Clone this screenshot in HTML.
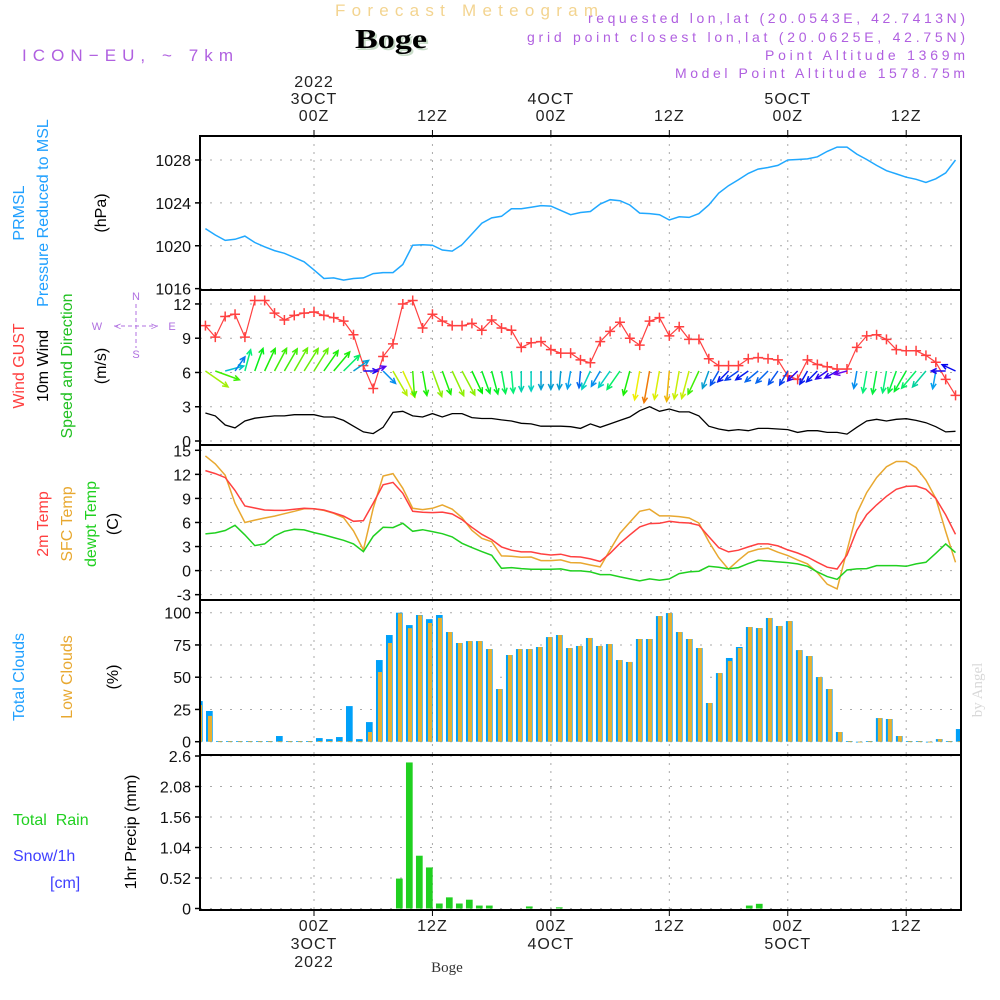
<!DOCTYPE html>
<html><head><meta charset="utf-8"><style>
html,body{margin:0;padding:0;background:#fff;}
svg{display:block;font-family:"Liberation Sans",sans-serif;}
</style></head><body>
<svg id="chart" width="1000" height="1000" viewBox="0 0 1000 1000" xmlns="http://www.w3.org/2000/svg">
<g id="texts">
<text x="335" y="16" font-size="17" fill="#f3d490" textLength="263" lengthAdjust="spacing">Forecast Meteogram</text>
<text x="357" y="50" font-size="27" font-weight="bold" font-family="Liberation Serif,serif" fill="#c8dcc8" textLength="72" lengthAdjust="spacingAndGlyphs">Boge</text>
<text x="355" y="48" font-size="27" font-weight="bold" font-family="Liberation Serif,serif" fill="#000" textLength="72" lengthAdjust="spacingAndGlyphs">Boge</text>
<text x="22" y="61" font-size="17" fill="#b060e0" textLength="211" lengthAdjust="spacing">ICON−EU, ~ 7km</text>
<g fill="#b060e0" font-size="14">
<text x="588" y="23" textLength="377" lengthAdjust="spacing">requested lon,lat (20.0543E, 42.7413N)</text>
<text x="527" y="42" textLength="438" lengthAdjust="spacing">grid point closest lon,lat (20.0625E, 42.75N)</text>
<text x="765" y="60" textLength="200" lengthAdjust="spacing">Point Altitude 1369m</text>
<text x="675" y="78" textLength="290" lengthAdjust="spacing">Model Point Altitude 1578.75m</text>
</g>
<g font-size="16">
<text transform="translate(24,213) rotate(-90)" text-anchor="middle" fill="#20a0ff">PRMSL</text>
<text transform="translate(48,213) rotate(-90)" text-anchor="middle" fill="#20a0ff">Pressure Reduced to MSL</text>
<text transform="translate(106,213) rotate(-90)" text-anchor="middle" fill="#000">(hPa)</text>
<text transform="translate(24,366) rotate(-90)" text-anchor="middle" fill="#ff4040">Wind GUST</text>
<text transform="translate(48,366) rotate(-90)" text-anchor="middle" fill="#000">10m Wind</text>
<text transform="translate(72,366) rotate(-90)" text-anchor="middle" fill="#20c020">Speed and Direction</text>
<text transform="translate(106,366) rotate(-90)" text-anchor="middle" fill="#000">(m/s)</text>
<text transform="translate(48,524) rotate(-90)" text-anchor="middle" fill="#ff4040">2m Temp</text>
<text transform="translate(72,524) rotate(-90)" text-anchor="middle" fill="#e8a830">SFC Temp</text>
<text transform="translate(96,524) rotate(-90)" text-anchor="middle" fill="#20d020">dewpt Temp</text>
<text transform="translate(118,524) rotate(-90)" text-anchor="middle" fill="#000">(C)</text>
<text transform="translate(24,677) rotate(-90)" text-anchor="middle" fill="#20a0ff">Total Clouds</text>
<text transform="translate(72,677) rotate(-90)" text-anchor="middle" fill="#e8a830">Low Clouds</text>
<text transform="translate(118,677) rotate(-90)" text-anchor="middle" fill="#000">(%)</text>
<text transform="translate(136,832) rotate(-90)" text-anchor="middle" fill="#000">1hr Precip (mm)</text>
<text x="13" y="825" fill="#20d020" xml:space="preserve">Total  Rain</text>
<text x="13" y="861" fill="#4040ff">Snow/1h</text>
<text x="50" y="888" fill="#4040ff">[cm]</text>
</g>
<g fill="#b070e0" stroke="#b070e0" font-size="11">
<text x="136" y="300" text-anchor="middle" stroke="none">N</text>
<text x="136" y="358" text-anchor="middle" stroke="none">S</text>
<text x="97" y="330" text-anchor="middle" stroke="none">W</text>
<text x="172" y="330" text-anchor="middle" stroke="none">E</text>
<line x1="136" y1="304" x2="136" y2="348" stroke-dasharray="4,3"/>
<line x1="114" y1="326" x2="158" y2="326" stroke-dasharray="4,3"/>
<text x="118" y="330" text-anchor="middle" stroke="none">&lt;</text>
<text x="154" y="330" text-anchor="middle" stroke="none">&gt;</text>
</g>
<text transform="translate(982,690) rotate(-90)" text-anchor="middle" font-size="15" font-family="Liberation Serif,serif" fill="#d8d8d8">by Angel</text>
<text x="447" y="972" text-anchor="middle" font-size="15" font-family="Liberation Serif,serif" fill="#333">Boge</text>
</g>
<g id="plot"></g>
</svg>
<script>
// ---- data ----
const tickHours = [0, 12, 24, 36, 48, 60, 72];
const tickTop = [["2022","3OCT","00Z"],["12Z"],["4OCT","00Z"],["12Z"],["5OCT","00Z"],["12Z"],[]];
const tickBottom = [["00Z","3OCT","2022"],["12Z"],["00Z","4OCT"],["12Z"],["00Z","5OCT"],["12Z"],[]];
const pressureTicks = [1016, 1020, 1024, 1028];
const windTicks = [0, 3, 6, 9, 12];
const tempTicks = [-3, 0, 3, 6, 9, 12, 15];
const cloudTicks = [0, 25, 50, 75, 100];
const precipTicks = [0, 0.52, 1.04, 1.56, 2.08, 2.6];
const precipTickLabels = ["0", "0.52", "1.04", "1.56", "2.08", "2.6"];
const SERIES_H0 = -11;     // hour of first hourly sample (relative to 00Z 3OCT)
const CLOUD_H0 = -11.62;   // hour of first cloud/precip bar
const CLOUD_DH = 1.013;
const pressure = [1021.6,1021.0,1020.5,1020.6,1020.9,1020.3,1019.9,1019.55,1019.3,1018.9,1018.5,1017.75,1016.95,1017.0,1016.8,1016.95,1017.0,1017.4,1017.5,1017.5,1018.25,1020.05,1020.1,1020.05,1019.6,1019.5,1020.1,1021.1,1022.1,1022.6,1022.75,1023.45,1023.45,1023.6,1023.75,1023.7,1023.3,1022.9,1023.1,1023.2,1023.9,1024.3,1024.2,1023.8,1023.05,1023.0,1022.9,1022.4,1022.7,1022.65,1023.0,1023.8,1024.9,1025.6,1026.15,1026.75,1027.15,1027.3,1027.5,1028.0,1028.05,1028.1,1028.3,1028.8,1029.2,1029.2,1028.55,1028.05,1027.5,1027.0,1026.7,1026.4,1026.2,1025.9,1026.25,1026.8,1028.0];
const gust = [10.1,9.1,10.9,11.1,9.1,12.3,12.3,11.2,10.6,11.0,11.2,11.3,11.0,10.8,10.5,9.3,6.6,4.6,7.4,8.5,12.0,12.3,9.9,11.1,10.5,10.1,10.1,10.3,9.7,10.6,9.9,9.7,8.2,8.6,8.7,8.0,7.7,7.7,7.1,6.85,8.7,9.6,10.4,9.0,8.4,10.5,10.8,9.2,10.0,8.9,8.9,7.2,6.6,6.6,6.6,7.2,7.3,7.2,7.1,5.7,5.4,7.1,6.7,6.5,6.3,6.3,8.2,9.2,9.3,8.9,8.0,7.9,7.9,7.5,6.9,5.4,4.0];
const windSpeed = [2.45,2.2,1.4,1.15,1.75,2.0,2.1,2.2,2.2,2.3,2.3,2.3,2.1,2.1,1.8,1.3,0.8,0.65,1.2,2.5,2.6,2.2,2.1,2.4,2.1,2.4,2.4,2.05,1.97,1.97,1.85,1.75,1.55,1.5,1.3,1.3,1.3,1.25,1.1,1.5,1.2,1.5,1.8,2.1,2.65,3.0,2.6,2.8,2.55,2.55,2.2,1.3,1.05,0.9,1.0,0.9,1.1,1.1,1.05,1.0,0.75,0.9,0.9,0.75,0.75,0.6,1.2,1.75,1.9,1.75,1.9,1.95,1.8,1.6,1.25,0.8,0.85];
const windArrowAngle = [35,20,-15,-55,-75,-70,-65,-62,-60,-60,-58,-58,-55,-50,-45,-35,0,-20,45,60,65,86,80,70,70,65,62,65,70,75,80,85,90,90,90,90,95,100,95,115,120,125,125,105,100,100,100,95,100,105,115,110,120,135,145,145,140,135,125,120,135,120,135,145,150,165,100,100,100,100,110,120,130,130,100,180,205];
const temp2m = [12.47,12.1,11.6,10.0,8.06,7.8,7.56,7.5,7.5,7.65,7.77,7.7,7.56,7.2,6.8,6.15,6.23,8.4,10.7,11.0,9.64,7.4,7.27,7.23,7.3,7.06,6.36,5.4,4.53,3.87,2.95,2.54,2.33,2.33,2.08,1.95,2.04,1.75,1.7,1.46,1.13,2.16,3.4,4.45,5.45,5.86,5.9,6.15,6.0,5.94,5.65,4.24,2.87,2.33,2.54,2.95,3.33,3.33,3.08,2.58,2.2,1.7,1.04,0.42,0.2,1.95,5.03,6.98,8.19,9.27,10.14,10.5,10.55,10.14,9.0,6.94,4.53];
const tempSfc = [14.3,13.3,11.9,8.4,6.0,6.3,6.56,6.8,7.1,7.4,7.7,7.7,7.5,7.15,6.6,4.95,2.58,7.77,11.8,12.1,10.26,7.77,7.6,7.77,8.19,7.65,6.6,5.03,4.03,3.6,1.83,1.79,1.67,1.7,1.25,1.25,1.33,1.0,0.96,0.7,0.46,2.58,4.66,6.03,7.4,7.65,6.82,6.82,6.73,6.56,5.94,3.62,1.62,0.17,1.29,2.29,2.66,2.79,2.29,1.87,1.33,0.83,-0.25,-1.7,-2.28,2.5,7.15,9.72,11.6,12.96,13.6,13.6,12.84,11.3,9.0,4.87,1.04];
const dewpoint = [4.57,4.7,5.0,5.65,4.45,3.12,3.33,4.32,4.9,5.15,5.07,4.74,4.45,4.12,3.78,3.33,2.37,4.28,5.4,5.36,5.9,4.9,5.1,4.86,4.6,4.2,3.4,2.87,2.37,1.91,0.29,0.38,0.25,0.17,0.17,0.17,0.21,-0.04,-0.04,-0.16,-0.5,-0.5,-0.79,-1.04,-1.29,-1.04,-1.2,-1.04,-0.37,-0.16,-0.08,0.54,0.42,0.21,0.38,0.87,1.29,1.2,1.08,1.0,0.83,0.54,-0.16,-0.75,-1.08,0.08,0.21,0.25,0.62,0.62,0.62,0.54,0.83,1.04,2.16,3.33,2.25];
const totalClouds = [31.5,23.8,0.5,0.5,0.5,0.5,0.5,0.5,4.4,0.5,0.5,0.5,2.8,2,3.6,27.6,2,15.2,63.3,82.7,100,90.4,98.2,95,98.2,85,76.5,78,78,71.8,40.8,67.2,71.8,71.8,73.4,81.1,82.7,72.6,74.2,80.4,74.2,75.7,63.3,61.8,79.6,79.6,97.4,99.7,85,79.6,72.6,30,53.2,64.9,73.4,88.9,88.1,95.9,89.7,93.5,71,66.4,50.1,40.8,7.5,0.5,0,0.5,18.3,17.6,4.4,0.5,0.5,0,2,0.5,9.8];
const lowClouds = [28.4,20,0.3,0.3,0.3,0.3,0.3,0.3,0.3,0.3,0.3,0.3,0.5,0.5,0.5,0.3,0.3,7.5,54,76.5,99.5,88,98,92,96,85,76.5,78,78,71.8,40.8,67.2,71.8,71.8,73.4,81.1,82.7,72.6,74.2,80.4,74.2,75.7,63.3,61.8,79.6,79.6,97.4,99.7,85,79.6,72.6,30,53.2,62.5,72.6,88.9,88.1,95.9,89.7,93.5,71,66.4,50.1,40.8,7.5,0.3,0,0.3,18.3,17.6,4.4,0.3,0.3,0,2,0.3,0.3];
const precip = [0,0,0,0,0,0,0,0,0,0,0,0,0,0,0,0,0,0,0,0,0.51,2.49,0.9,0.7,0.085,0.19,0.085,0.15,0.05,0.05,0,0,0,0.035,0,0,0.02,0,0,0,0,0,0,0,0,0,0,0,0,0,0,0,0,0,0,0.05,0.08,0,0,0,0,0,0,0,0,0,0,0,0,0,0,0,0,0,0,0,0];

// ---- scales ----
const PX = 200, PR = 961;
const xH = h => 314 + h * 9.87;
const yP = v => 160 + (1028 - v) * 10.72;
const yW = v => 441 - v * 11.42;
const yT = v => 450.3 + (15 - v) * 8.02;
const yC = v => 741.7 - v * 1.29;
const yR = v => 908.5 - v * 58.65;
const panels = [[136,290],[290,445],[445,600],[600,755],[755,910]];

const NS = "http://www.w3.org/2000/svg";
const plot = document.getElementById('plot');
function mk(tag, attrs, parent) {
  const e = document.createElementNS(NS, tag);
  for (const k in attrs) e.setAttribute(k, attrs[k]);
  (parent || plot).appendChild(e);
  return e;
}
const clip = mk('clipPath', {id: 'pc'});
mk('rect', {x: PX, y: 136, width: PR - PX, height: 774}, clip);

tickHours.forEach((h, i) => {
  const x = xH(h);
  if (x > PR) return;
  panels.forEach(p => {
    const g = mk('line', {x1: x, y1: p[0], x2: x, y2: p[1], stroke: '#aaa', 'stroke-dasharray': '2,6'});
    
    
  });
  mk('line', {x1: x, y1: 130, x2: x, y2: 136, stroke: '#000'});
  mk('line', {x1: x, y1: 910, x2: x, y2: 916, stroke: '#000'});
  tickTop[i].forEach((s, j) => {
    const t = mk('text', {x: x, y: 121 - (tickTop[i].length - 1 - j) * 17, 'text-anchor': 'middle', 'font-size': 16, fill: '#222', 'letter-spacing': 1});
    t.textContent = s;
    
    
  });
  tickBottom[i].forEach((s, j) => {
    const t = mk('text', {x: x, y: 931 + j * 18, 'text-anchor': 'middle', 'font-size': 16, fill: '#222', 'letter-spacing': 1});
    t.textContent = s;
    
    
  });
});

function yAxis(ticks, labels, yf, name) {
  ticks.forEach((v, i) => {
    const y = yf(v);
    const g = mk('line', {x1: PX, y1: y, x2: PR, y2: y, stroke: '#aaa', 'stroke-dasharray': '2,8'});
    
    
    mk('line', {x1: PX - 5, y1: y, x2: PX, y2: y, stroke: '#000', 'stroke-width': 1.5});
    const t = mk('text', {x: 191, y: y + 6, 'text-anchor': 'end', 'font-size': 16, fill: '#111'});
    t.textContent = labels ? labels[i] : String(v);
    
    
  });
}
yAxis(pressureTicks, null, yP, 'pressure');
yAxis(windTicks, null, yW, 'wind');
yAxis(tempTicks, null, yT, 'temp');
yAxis(cloudTicks, null, yC, 'cloud');
yAxis(precipTicks, precipTickLabels, yR, 'precip');

const data = mk('g', {'clip-path': 'url(#pc)'});
function line(arr, yf, color, name, w) {
  const pts = arr.map((v, i) => xH(SERIES_H0 + i).toFixed(1) + ',' + yf(v).toFixed(1)).join(' ');
  const p = mk('polyline', {points: pts, fill: 'none', stroke: color, 'stroke-width': w || 1.5}, data);
  
  
}
line(pressure, yP, '#20a8ff', 'pressure-line');
line(gust, yW, '#ff4040', 'gust-line', 1.2);
gust.forEach((v, i) => {
  const x = xH(SERIES_H0 + i), y = yW(v);
  const m = mk('path', {d: `M${x-5},${y}H${x+5}M${x},${y-5}V${y+5}`, stroke: '#ff4040', 'stroke-width': 1.5}, data);
  
  
});
line(windSpeed, yW, '#000', 'wind-speed-line', 1.3);
function speedColor(s) {
  const hue = Math.max(30, Math.min(265, 265 - (s - 0.6) * 100));
  return `hsl(${hue},95%,${hue > 150 && hue < 200 ? 42 : 48}%)`;
}
windArrowAngle.forEach((a, i) => {
  const s = windSpeed[i];
  const x = xH(SERIES_H0 + i), y = 371;
  const L = 8 + 8 * s, r = a * Math.PI / 180;
  const x2 = x + L * Math.cos(r), y2 = y + L * Math.sin(r);
  const h1 = r + Math.PI - 0.45, h2 = r + Math.PI + 0.45;
  const c = speedColor(s);
  const p = mk('path', {d: `M${x},${y}L${x2},${y2}M${x2+6*Math.cos(h1)},${y2+6*Math.sin(h1)}L${x2},${y2}L${x2+6*Math.cos(h2)},${y2+6*Math.sin(h2)}`, stroke: c, fill: 'none', 'stroke-width': 1.5}, data);
  
  
});
line(tempSfc, yT, '#e8a830', 'sfc-temp-line');
line(temp2m, yT, '#ff4040', '2m-temp-line');
line(dewpoint, yT, '#20d020', 'dewpoint-line');

totalClouds.forEach((v, i) => {
  const x = xH(CLOUD_H0 + i * CLOUD_DH);
  const b = mk('rect', {x: x - 3.3, y: yC(v), width: 6.7, height: Math.max(0.8, yC(0) - yC(v)), fill: '#00a0f8'}, data);
  
  
  const lv = lowClouds[i];
  const o = mk('rect', {x: x - 1.3, y: yC(lv), width: 4, height: Math.max(0.8, yC(0) - yC(lv)), fill: '#e8b030'}, data);
  
  
});
precip.forEach((v, i) => {
  if (v <= 0) return;
  const x = xH(CLOUD_H0 + i * CLOUD_DH);
  const b = mk('rect', {x: x - 3.3, y: yR(v), width: 6.7, height: yR(0) - yR(v), fill: '#20d020'}, data);
  
  
});

panels.forEach((p, i) => {
  const r = mk('rect', {x: PX, y: p[0], width: PR - PX, height: p[1] - p[0], fill: 'none', stroke: '#000', 'stroke-width': 2});
  
  
});
</script>
</body></html>
